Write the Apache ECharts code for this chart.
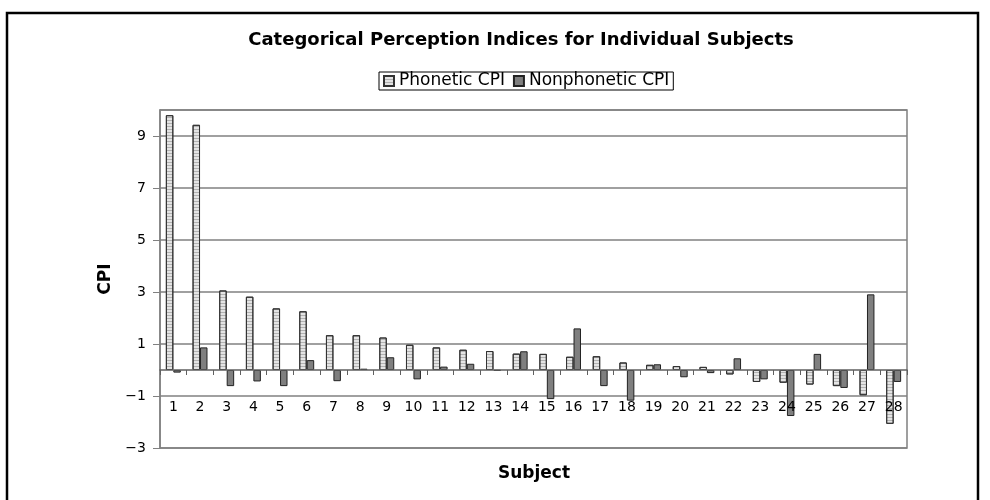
<!DOCTYPE html>
<html><head><meta charset="utf-8">
<script src="https://cdn.jsdelivr.net/npm/echarts@6/dist/echarts.min.js"></script>
<style>html,body{margin:0;padding:0;background:#fff}#c{width:990px;height:500px}</style>
</head><body><div id="c"></div>
<script>
var subjects = ['1','2','3','4','5','6','7','8','9','10','11','12','13','14','15','16','17','18','19','20','21','22','23','24','25','26','27','28'];
var phoneticCPI = [9.8, 9.43, 3.06, 2.82, 2.37, 2.26, 1.34, 1.34, 1.25, 0.97, 0.87, 0.78, 0.73, 0.63, 0.62, 0.51, 0.53, 0.29, 0.2, 0.15, 0.12, -0.17, -0.46, -0.49, -0.56, -0.62, -0.97, -2.07];
var nonphoneticCPI = [-0.1, 0.87, -0.62, -0.44, -0.62, 0.38, -0.43, 0.05, 0.49, -0.36, 0.13, 0.24, -0.03, 0.72, -1.12, 1.6, -0.62, -1.18, 0.22, -0.28, -0.12, 0.45, -0.36, -1.77, 0.62, -0.69, 2.91, -0.46];
var seriesNames = ['Phonetic CPI', 'Nonphonetic CPI'];
var titleText = 'Categorical Perception Indices for Individual Subjects';

var font = 'DejaVu Sans, Verdana, sans-serif';
var chart = echarts.init(document.getElementById('c'), null, {renderer: 'canvas'});
chart.setOption({
  animation: false,
  backgroundColor: '#fff',
  graphic: [
    {type: 'rect', shape: {x: 7, y: 13, width: 971, height: 500}, style: {fill: 'none', stroke: '#000', lineWidth: 2.5}, silent: true, z: -1},
    {type: 'text', x: 521, y: 40, style: {text: titleText, font: 'bold 18px ' + font, fill: '#000', align: 'center', verticalAlign: 'middle'}},
    {type: 'text', x: 534, y: 474, style: {text: 'Subject', font: 'bold 17px ' + font, fill: '#000', align: 'center', verticalAlign: 'middle'}}
  ],
  legend: {
    left: 379, top: 72,
    orient: 'horizontal',
    borderColor: '#000', borderWidth: 1,
    padding: [0, 4, 0, 4],
    itemGap: 8, itemWidth: 10, itemHeight: 10,
    textStyle: {fontFamily: font, fontSize: 17, color: '#000', lineHeight: 18},
    data: [{name: seriesNames[0], icon: 'rect'}, {name: seriesNames[1], icon: 'rect'}]
  },
  grid: {left: 160, right: 83, top: 110, bottom: 52, show: true, borderColor: '#808080', borderWidth: 1.5, containLabel: false},
  xAxis: {
    type: 'category', data: subjects, z: 5,
    axisLine: {onZero: true, lineStyle: {color: '#606060', width: 1.5}},
    axisTick: {show: true, length: 5, lineStyle: {color: '#606060'}},
    axisLabel: {fontFamily: font, fontSize: 14, color: '#000', margin: -48, interval: 0}
  },
  yAxis: {
    type: 'value', min: -3, max: 10, interval: 2,
    name: 'CPI', nameLocation: 'middle', nameGap: 34, nameRotate: 90,
    nameTextStyle: {fontFamily: font, fontSize: 17, fontWeight: 'bold', color: '#000'},
    axisLine: {show: true, lineStyle: {color: '#808080', width: 1.5}},
    axisTick: {show: true, length: 7, lineStyle: {color: '#808080'}},
    axisLabel: {fontFamily: font, fontSize: 14, color: '#000', margin: 14, showMaxLabel: false,
      formatter: function (v) { return String(v).replace('-', '\u2212'); }},
    splitLine: {show: true, lineStyle: {color: '#808080', width: 1.5}}
  },
  series: [
    {name: seriesNames[0], type: 'bar', data: phoneticCPI, barGap: '0%', barCategoryGap: '44%',
      itemStyle: {color: '#e4e4e4', borderColor: '#333', borderWidth: 1,
        decal: {symbol: 'rect', symbolSize: 1, dashArrayX: [1, 0], dashArrayY: [1, 2], color: 'rgba(0,0,0,0.22)'}}},
    {name: seriesNames[1], type: 'bar', data: nonphoneticCPI,
      itemStyle: {color: '#7f7f7f', borderColor: '#222', borderWidth: 1}}
  ]
});
</script></body></html>
